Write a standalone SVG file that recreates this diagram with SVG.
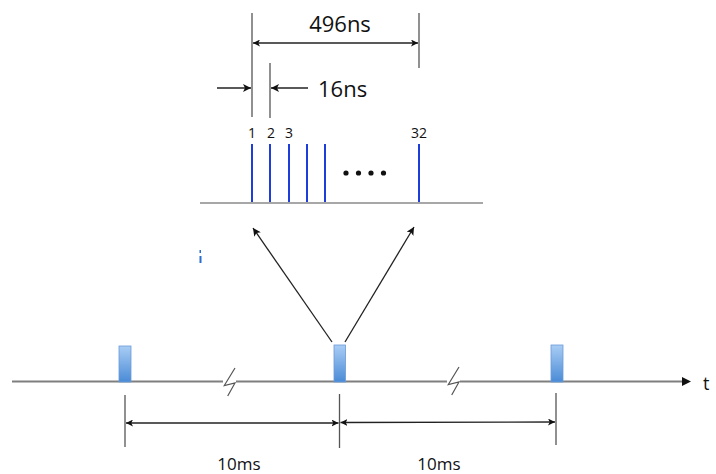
<svg xmlns="http://www.w3.org/2000/svg" width="716" height="474" viewBox="0 0 716 474">
<defs>
<linearGradient id="bar" x1="0" y1="0" x2="0" y2="1">
<stop offset="0" stop-color="#a9cdf5"/>
<stop offset="1" stop-color="#4a8bd6"/>
</linearGradient>
<marker id="ah" viewBox="0 0 10 10" refX="10" refY="5" markerWidth="8" markerHeight="8" markerUnits="userSpaceOnUse" orient="auto">
<path d="M0,0 L10,5 L0,10 L2.5,5 Z" fill="#111"/>
</marker>
<marker id="ahs" viewBox="0 0 10 10" refX="10" refY="5" markerWidth="7" markerHeight="7" markerUnits="userSpaceOnUse" orient="auto-start-reverse">
<path d="M0,0 L10,5 L0,10 L2.5,5 Z" fill="#111"/>
</marker>
<g id="brk">
<rect x="-1" y="-3" width="13" height="6" fill="#fff"/>
<path d="M11,-14 L0.3,3.5 L11,1 L3.7,14" stroke="#555" stroke-width="1.2" fill="none" stroke-linejoin="miter"/>
</g>
</defs>
<style>
.txt{font-family:"Open Sans","Liberation Sans",sans-serif;fill:#111}
.dim{stroke:#555;stroke-width:1.3;fill:none}
.arr{stroke:#222;stroke-width:1.3;fill:none}
.pulse{stroke:#1f3ddb;stroke-width:2;fill:none}
.axis{stroke:#7f7f7f;stroke-width:2;fill:none}
.barr{fill:url(#bar);stroke:#6a9bd8;stroke-width:0.8}
</style>
<rect width="716" height="474" fill="#fff"/>

<g id="zoom-pulses">
<line x1="200" y1="203" x2="483" y2="203" stroke="#8a8a8a" stroke-width="1.6"/>
<line class="pulse" x1="252" y1="144" x2="252" y2="202"/>
<line class="pulse" x1="270" y1="144" x2="270" y2="202"/>
<line class="pulse" x1="289" y1="144" x2="289" y2="202"/>
<line class="pulse" x1="307" y1="144" x2="307" y2="202"/>
<line class="pulse" x1="325" y1="144" x2="325" y2="202"/>
<line class="pulse" x1="419" y1="144" x2="419" y2="202"/>
<g fill="#111">
<circle cx="346" cy="173" r="2.6"/>
<circle cx="358.5" cy="173" r="2.6"/>
<circle cx="371" cy="173" r="2.6"/>
<circle cx="383.5" cy="173" r="2.6"/>
</g>
<text class="txt" x="252" y="138" font-size="14" text-anchor="middle">1</text>
<text class="txt" x="271" y="138" font-size="14" text-anchor="middle">2</text>
<text class="txt" x="289" y="138" font-size="14" text-anchor="middle">3</text>
<text class="txt" x="419" y="138" font-size="14" text-anchor="middle">32</text>
</g>

<g id="dim-496ns">
<line class="dim" x1="252" y1="13" x2="252" y2="117"/>
<line class="dim" x1="419" y1="13" x2="419" y2="68"/>
<line class="arr" x1="253" y1="43" x2="418" y2="43" marker-start="url(#ahs)" marker-end="url(#ahs)"/>
<text class="txt" x="340" y="32" font-size="22" text-anchor="middle">496ns</text>
</g>

<g id="dim-16ns">
<line class="dim" x1="270" y1="63" x2="270" y2="118"/>
<line class="arr" x1="217" y1="88" x2="251" y2="88" marker-end="url(#ah)"/>
<line class="arr" x1="308" y1="88" x2="271" y2="88" marker-end="url(#ah)"/>
<text class="txt" x="318" y="97" font-size="22">16ns</text>
</g>

<g id="stray" fill="#2a6fd0">
<rect x="199.5" y="250" width="1.5" height="3"/>
<rect x="199.5" y="256" width="2" height="7"/>
</g>

<g id="connectors">
<line class="arr" x1="332" y1="342" x2="253" y2="228" marker-end="url(#ah)"/>
<line class="arr" x1="345" y1="342" x2="414" y2="227" marker-end="url(#ah)"/>
</g>

<g id="time-axis">
<line class="axis" x1="12" y1="381.5" x2="684" y2="381.5"/>
<path d="M682,377 L691,381.5 L682,386 Z" fill="#111"/>
<text class="txt" x="703" y="390" font-size="18">t</text>
<use href="#brk" x="224" y="382"/>
<use href="#brk" x="448" y="381"/>
</g>

<g id="burst-1"><rect class="barr" x="119" y="346" width="12" height="36"/></g>
<g id="burst-2"><rect class="barr" x="334" y="345" width="11.5" height="37"/></g>
<g id="burst-3"><rect class="barr" x="551" y="345" width="12" height="37"/></g>

<g id="dim-10ms">
<line class="dim" x1="125" y1="395" x2="125" y2="447"/>
<line class="dim" x1="339.5" y1="394" x2="339.5" y2="448"/>
<line class="dim" x1="556" y1="393" x2="556" y2="445"/>
<line class="arr" x1="126" y1="423" x2="338.5" y2="423" marker-start="url(#ahs)" marker-end="url(#ahs)"/>
<line class="arr" x1="340.5" y1="422.5" x2="555" y2="422" marker-start="url(#ahs)" marker-end="url(#ahs)"/>
<text class="txt" x="239" y="470" font-size="17" text-anchor="middle">10ms</text>
<text class="txt" x="439" y="470" font-size="17" text-anchor="middle">10ms</text>
</g>
</svg>
